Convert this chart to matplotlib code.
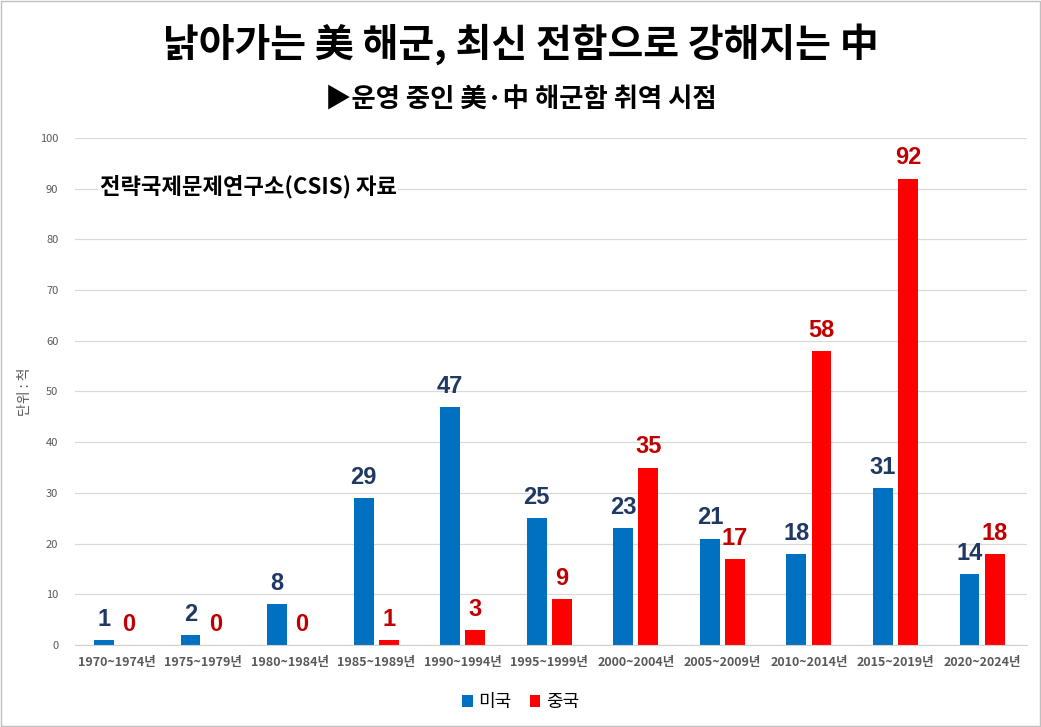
import matplotlib.pyplot as plt
import numpy as np
from matplotlib.patches import Rectangle

plt.rcParams["font.family"] = ["Noto Sans CJK KR", "DejaVu Sans"]

periods = ["1970~1974년", "1975~1979년", "1980~1984년", "1985~1989년", "1990~1994년",
           "1995~1999년", "2000~2004년", "2005~2009년", "2010~2014년", "2015~2019년",
           "2020~2024년"]
usa   = [1, 2, 8, 29, 47, 25, 23, 21, 18, 31, 14]
china = [0, 0, 0, 1, 3, 9, 35, 17, 58, 92, 18]

blue, red = "#0070C0", "#FF0000"
blue_txt, red_txt = "#1F3864", "#C00000"

fig = plt.figure(figsize=(10.41, 7.27), dpi=100)
ax = fig.add_axes([0.072, 0.1128, 0.9146, 0.6974])

x = np.arange(len(periods))
w, off = 0.23, 0.145
b1 = ax.bar(x - off, usa, w, color=blue, label="미국", zorder=2)
b2 = ax.bar(x + off, china, w, color=red, label="중국", zorder=2)

for xi, v in zip(x, usa):
    ax.text(xi - off, v + 1.8, str(v), ha="center", va="bottom", fontsize=17,
            fontweight="bold", color=blue_txt, family=["Liberation Sans"])
for xi, v in zip(x, china):
    ax.text(xi + off, v + 1.8, str(v), ha="center", va="bottom", fontsize=17,
            fontweight="bold", color=red_txt, family=["Liberation Sans"])

ax.set_xlim(-0.48, 10.52)
ax.set_ylim(0, 100)
ax.set_yticks(range(0, 101, 10))
ax.set_xticks(x)
ax.set_xticklabels(periods, fontsize=9, fontweight="bold", color="#595959")
ax.tick_params(axis="y", length=0, labelsize=8, labelcolor="#595959", pad=12)
ax.tick_params(axis="x", length=0, pad=8)
ax.grid(axis="y", color="#D9D9D9", lw=0.9, zorder=0)
for s in ["top", "right", "left"]:
    ax.spines[s].set_visible(False)
ax.spines["bottom"].set_color("#D0D0D0")
ax.set_ylabel("단위 : 척", fontsize=10, color="#595959", labelpad=6)

ax.text(0.026, 0.905, "전략국제문제연구소(CSIS) 자료", transform=ax.transAxes,
        fontsize=16, fontweight="bold", color="black", va="center",
        bbox=dict(facecolor="white", edgecolor="none", pad=1))

fig.text(0.5, 0.94, "낡아가는 美 해군, 최신 전함으로 강해지는 中", ha="center",
         va="center", fontsize=28, fontweight="bold")
fig.text(0.5, 0.862, "▶운영 중인 美·中 해군함 취역 시점", ha="center",
         va="center", fontsize=19, fontweight="bold",
         family=["Noto Sans CJK KR", "DejaVu Sans"])

fig.legend(handles=[b1, b2], loc="center", bbox_to_anchor=(0.5, 0.034), ncol=2,
           frameon=False, fontsize=13, handlelength=0.6, handleheight=0.6,
           handletextpad=0.3, columnspacing=1.0)

fig.patches.append(Rectangle((0.001, 0.001), 0.998, 0.998, transform=fig.transFigure,
                             fill=False, edgecolor="#BFBFBF", lw=1))

fig.savefig("out.png", dpi=100)
